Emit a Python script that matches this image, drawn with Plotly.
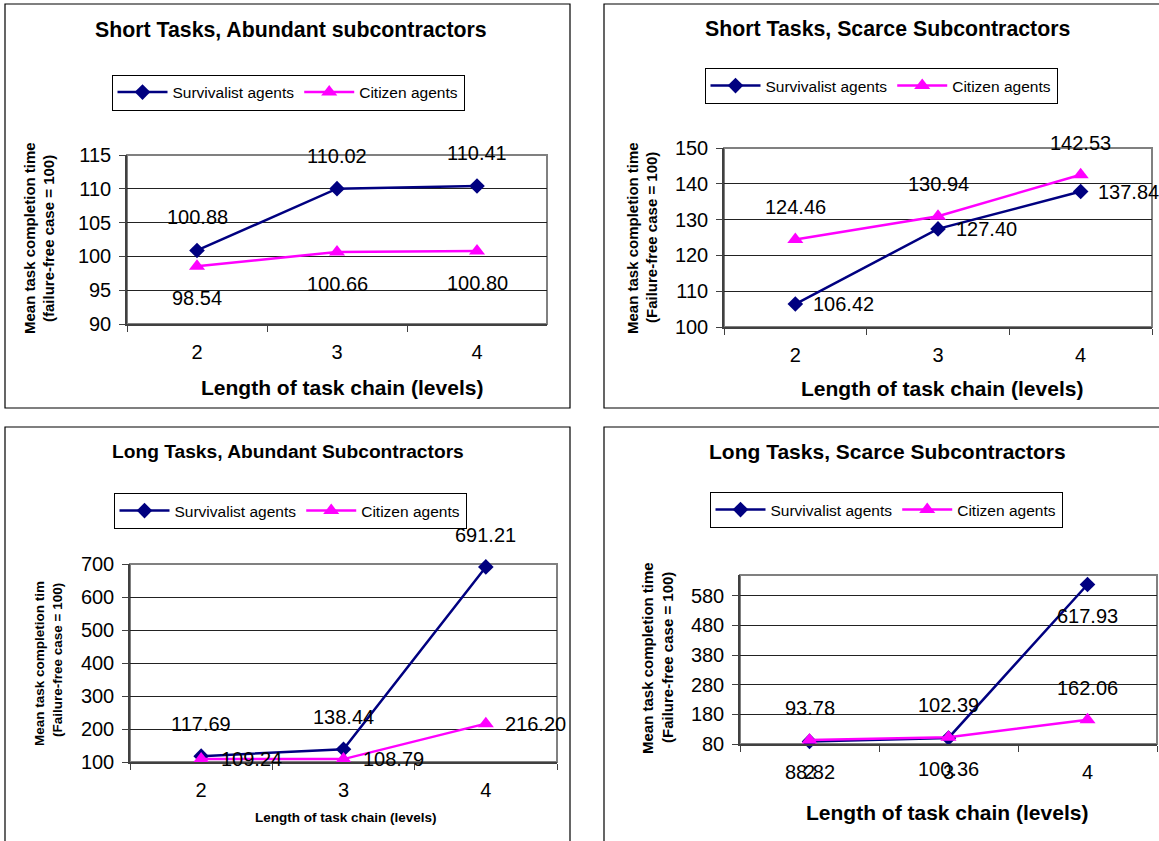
import plotly.graph_objects as go

W, H = 1159, 841

# ---------------- data ----------------
levels = ["2", "3", "4"]
series_names = ["Survivalist agents", "Citizen agents"]

short_abundant_survivalist = [100.88, 110.02, 110.41]
short_abundant_citizen = [98.54, 100.66, 100.80]

short_scarce_survivalist = [106.42, 127.40, 137.84]
short_scarce_citizen = [124.46, 130.94, 142.53]

long_abundant_survivalist = [117.69, 138.44, 691.21]
long_abundant_citizen = [109.24, 108.79, 216.20]

long_scarce_survivalist = [88.82, 100.36, 617.93]
long_scarce_citizen = [93.78, 102.39, 162.06]

panel_titles = [
    "Short Tasks, Abundant subcontractors",
    "Short Tasks, Scarce Subcontractors",
    "Long Tasks, Abundant Subcontractors",
    "Long Tasks, Scarce Subcontractors",
]
x_title = "Length of task chain (levels)"
y_titles = [
    ("Mean task completion time", "(failure-free case = 100)"),
    ("Mean task completion time", "(Failure-free case = 100)"),
    ("Mean task completion tim", "(Failure-free case = 100)"),
    ("Mean task completion time", "(Failure-free case = 100)"),
]
y_ranges = [(90, 115), (100, 150), (100, 700), (80, 650)]
y_dticks = [5, 10, 100, 100]

NAVY = "#000080"
MAGENTA = "#FF00FF"
FONT = "Liberation Sans, Arial, sans-serif"


def px_x(X):
    return X / W


def px_y(Y):
    return 1 - Y / H


# layout geometry (pixels) per panel
panels = [
    dict(border=(5, 4, 570, 408), plot=(127, 155, 547, 324), title=(291, 30, 21.3),
         legend=(288, 92.5), xt=(342, 387, 21), yt=((29, 238), (48, 238), 15),
         data=(short_abundant_survivalist, short_abundant_citizen),
         offs=((0, 33), (0, -32))),
    dict(border=(604, 4, 1175, 408), plot=(724, 148, 1152, 327), title=(887, 29, 21.3),
         legend=(881, 86), xt=(942, 388, 21), yt=((632, 238), (651, 238), 15),
         data=(short_scarce_survivalist, short_scarce_citizen),
         offs=((48, 0), (0, 32))),
    dict(border=(5, 427, 570, 860), plot=(130, 564, 557, 762), title=(288, 452, 19.2),
         legend=(290, 511), xt=(346, 817, 13.5), yt=((39, 664), (57, 660), 13.5),
         data=(long_abundant_survivalist, long_abundant_citizen),
         offs=((0, 32), (50, 0))),
    dict(border=(604, 427, 1175, 860), plot=(740, 575, 1157, 744), title=(887, 452, 21),
         legend=(886, 510), xt=(947, 812, 21), yt=((647, 658), (667, 658), 15),
         data=(long_scarce_survivalist, long_scarce_citizen),
         offs=((0, -31), (0, 32))),
]

fig = go.Figure()
annotations = []
shapes = []
layout = dict(
    width=W, height=H,
    margin=dict(l=0, r=0, t=0, b=0, autoexpand=False),
    paper_bgcolor="white", plot_bgcolor="white",
    font=dict(family=FONT, color="black"),
)

for i, p in enumerate(panels):
    n = i + 1
    xa = "x" if n == 1 else f"x{n}"
    ya = "y" if n == 1 else f"y{n}"
    xkey = "xaxis" if n == 1 else f"xaxis{n}"
    ykey = "yaxis" if n == 1 else f"yaxis{n}"
    lkey = "legend" if n == 1 else f"legend{n}"
    x0, y0, x1, y1 = p["plot"]

    surv, cit = p["data"]
    fig.add_trace(go.Scatter(
        x=levels, y=surv, name=series_names[0], mode="lines+markers",
        line=dict(color=NAVY, width=2.5),
        marker=dict(symbol="diamond", size=12, color=NAVY),
        xaxis=xa, yaxis=ya, legend=lkey, cliponaxis=False,
    ))
    fig.add_trace(go.Scatter(
        x=levels, y=cit, name=series_names[1], mode="lines+markers",
        line=dict(color=MAGENTA, width=2.5),
        marker=dict(symbol="triangle-up", size=14, color=MAGENTA),
        xaxis=xa, yaxis=ya, legend=lkey, cliponaxis=False,
    ))

    layout[xkey] = dict(
        domain=[px_x(x0), px_x(x1)], anchor=ya, type="category",
        range=[-0.5, len(levels) - 0.5], tickson="boundaries",
        ticks="outside", ticklen=6, tickcolor="#404040",
        showline=True, linecolor="#404040", linewidth=1.5,
        showgrid=False, tickfont=dict(size=20), ticklabelstandoff=9,
        automargin=False,
    )
    lo, hi = y_ranges[i]
    layout[ykey] = dict(
        domain=[px_y(y1), px_y(y0)], anchor=xa, range=[lo, hi],
        tick0=lo, dtick=y_dticks[i], ticks="outside", ticklen=6,
        tickcolor="#404040", showline=True, linecolor="#404040", linewidth=1.5,
        showgrid=True, gridcolor="#222222", gridwidth=1, zeroline=False,
        tickfont=dict(size=20), ticklabelstandoff=4, automargin=False,
    )
    lx, ly = p["legend"]
    layout[lkey] = dict(
        x=px_x(lx), y=px_y(ly), xanchor="center", yanchor="middle",
        orientation="h", bordercolor="black", borderwidth=1, bgcolor="white",
        font=dict(size=15.5, family=FONT), itemwidth=50,
    )

    # plot area border (gray)
    shapes.append(dict(type="rect", xref=f"{xa} domain", yref=f"{ya} domain",
                       x0=0, x1=1, y0=0, y1=1, line=dict(color="#808080", width=2),
                       layer="below"))
    # outer chart border (clamped to the page)
    bx0, by0, bx1, by1 = p["border"]
    bx1 = min(bx1, W + 2)
    by1 = min(by1, H + 2)
    shapes.append(dict(type="rect", xref="paper", yref="paper",
                       x0=px_x(bx0), x1=px_x(bx1), y0=px_y(by1), y1=px_y(by0),
                       line=dict(color="black", width=1.2)))

    # title
    tx, ty, ts = p["title"]
    annotations.append(dict(text=f"<b>{panel_titles[i]}</b>", x=px_x(tx), y=px_y(ty),
                            xref="paper", yref="paper", showarrow=False,
                            xanchor="center", yanchor="middle", font=dict(size=ts)))
    # x title
    xx, xy, xs = p["xt"]
    annotations.append(dict(text=f"<b>{x_title}</b>", x=px_x(xx), y=px_y(xy),
                            xref="paper", yref="paper", showarrow=False,
                            xanchor="center", yanchor="middle", font=dict(size=xs)))
    # y title (two lines)
    (l1x, l1y), (l2x, l2y), ys = p["yt"]
    for (ax_, ay_), txt in zip(((l1x, l1y), (l2x, l2y)), y_titles[i]):
        annotations.append(dict(text=f"<b>{txt}</b>", x=px_x(ax_), y=px_y(ay_),
                                xref="paper", yref="paper", showarrow=False,
                                textangle=-90, xanchor="center", yanchor="middle",
                                font=dict(size=ys)))
    # data labels (x given as category index)
    for vals, (dx, dy) in zip(p["data"], p["offs"]):
        for j, v in enumerate(vals):
            annotations.append(dict(text=f"{v:.2f}", x=j, y=v, xref=xa, yref=ya,
                                    showarrow=False, xshift=dx, yshift=dy,
                                    xanchor="center", yanchor="middle",
                                    font=dict(size=20)))

layout["annotations"] = annotations
layout["shapes"] = shapes
fig.update_layout(**layout)

fig.write_html("out.html", config={"displayModeBar": False},
               post_script="document.body.style.margin='0';")
